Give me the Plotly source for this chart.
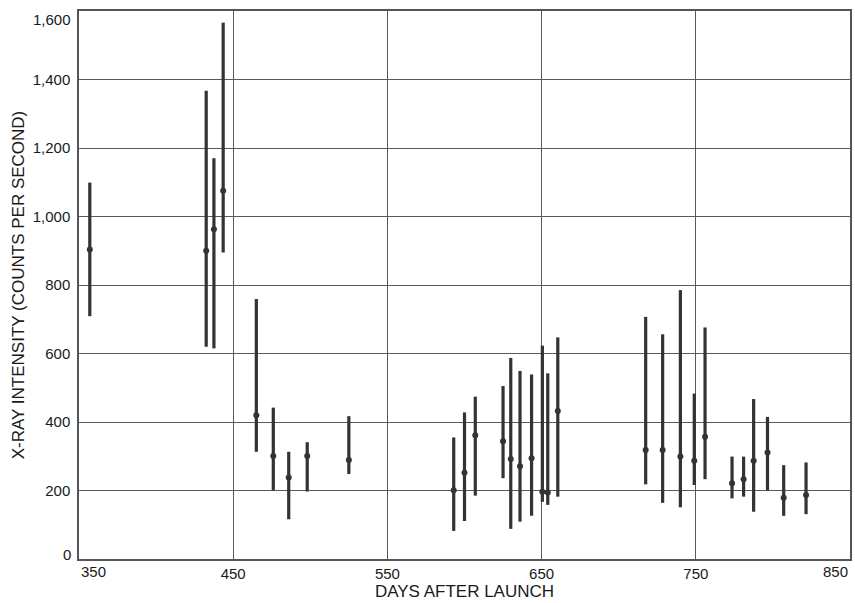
import plotly.graph_objects as go

days = [357, 432.5, 437.5, 443.5, 465, 476, 486, 498, 525,
        593, 600, 607, 625, 630, 636, 643.5, 650.5, 654, 660.5,
        717.5, 728.5, 740, 749, 756, 773.5, 781, 787.5, 796.5, 807, 821.5]
intensity = [904, 900, 963, 1075, 420, 301, 238, 301, 289,
             201, 252, 361, 344, 292, 271, 294, 196, 194, 432,
             318, 318, 299, 287, 357, 221, 233, 287, 311, 179, 187]
upper = [1099, 1367, 1170, 1566, 759, 442, 313, 341, 417,
         355, 428, 474, 505, 587, 549, 539, 623, 542, 647,
         707, 656, 785, 483, 676, 299, 299, 467, 415, 274, 282]
lower = [709, 620, 615, 895, 313, 200, 116, 197, 248,
         82, 111, 185, 236, 88, 109, 126, 167, 158, 182,
         218, 164, 151, 216, 233, 177, 182, 138, 200, 126, 131]

x_ticks = [350, 450, 550, 650, 750, 850]
y_ticks = [0, 200, 400, 600, 800, 1000, 1200, 1400, 1600]

err_plus = [u - c for u, c in zip(upper, intensity)]
err_minus = [c - l for c, l in zip(intensity, lower)]

TICK_FONT = dict(family="Liberation Sans, Arial, sans-serif", size=15, color="#1a1a1a")

fig = go.Figure()
fig.add_trace(go.Scatter(
    x=days, y=intensity, mode="markers",
    marker=dict(size=6, color="#333333"),
    error_y=dict(type="data", symmetric=False, array=err_plus, arrayminus=err_minus,
                 width=0, thickness=3.2, color="#333333"),
    showlegend=False,
))

# inner tick labels drawn by the axes; end labels are nudged inward as in the reference
x_text = ["" if t in (x_ticks[0], x_ticks[-1]) else str(t) for t in x_ticks]
y_text = ["" if t in (y_ticks[0], y_ticks[-1]) else f"{t:,}" for t in y_ticks]

annotations = [
    dict(x=x_ticks[0], xref="x", y=0, yref="paper", text=str(x_ticks[0]),
         xanchor="left", yanchor="middle", yshift=-12, showarrow=False, font=TICK_FONT),
    dict(x=x_ticks[-1], xref="x", y=0, yref="paper", text=str(x_ticks[-1]),
         xanchor="right", yanchor="middle", yshift=-12, showarrow=False, font=TICK_FONT),
    dict(x=0, xref="paper", y=y_ticks[0], yref="y", text=f"{y_ticks[0]:,}",
         xanchor="right", yanchor="middle", xshift=-6, yshift=5, showarrow=False, font=TICK_FONT),
    dict(x=0, xref="paper", y=y_ticks[-1], yref="y", text=f"{y_ticks[-1]:,}",
         xanchor="right", yanchor="middle", xshift=-6, yshift=-8, showarrow=False, font=TICK_FONT),
]

fig.update_layout(
    width=855, height=603,
    margin=dict(l=79, r=3, t=11, b=44),
    paper_bgcolor="white", plot_bgcolor="white",
    font=dict(family="Liberation Sans, Arial, sans-serif", size=15, color="#1a1a1a"),
    annotations=annotations,
)
fig.update_xaxes(
    range=[350, 850], tickvals=x_ticks, ticktext=x_text, tickfont=TICK_FONT,
    showgrid=True, gridcolor="#5a5a5a", gridwidth=1,
    showline=True, linecolor="#555555", linewidth=1.5, mirror=True,
    zeroline=False, ticks="", ticklen=0,
    title=dict(text="DAYS AFTER LAUNCH", standoff=4, font=dict(size=17)),
)
fig.update_yaxes(
    range=[0, 1600], tickvals=y_ticks, ticktext=y_text, tickfont=TICK_FONT,
    showgrid=True, gridcolor="#5a5a5a", gridwidth=1,
    showline=True, linecolor="#555555", linewidth=1.5, mirror=True,
    zeroline=False, ticks="", ticklen=0, ticklabelstandoff=4,
    title=dict(text="X-RAY INTENSITY (COUNTS PER SECOND)", standoff=4, font=dict(size=17)),
)

fig.write_html("out.html")
